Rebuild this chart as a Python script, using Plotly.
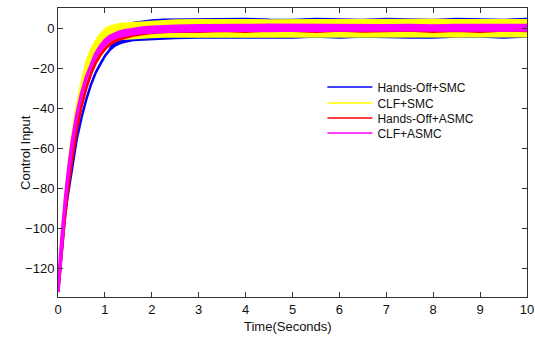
import plotly.graph_objects as go

# time samples (seconds)
T = [0, 0.05, 0.1, 0.15, 0.2, 0.25, 0.3, 0.4, 0.5, 0.6, 0.7, 0.8, 0.9, 1.0,
     1.1, 1.2, 1.3, 1.4, 1.6, 1.8, 2.0, 2.25, 2.5, 3.0, 3.5, 4.0, 4.5, 5.0,
     5.5, 6.0, 6.5, 7.0, 7.5, 8.0, 8.5, 9.0, 9.5, 10.0]

# upper / lower envelopes of each (chattering) control signal
hos_hi = [-132, -118, -105, -94, -85, -77, -70, -55.5, -45, -36, -28.5, -22.5, -18, -14,
          -11, -6, -2, 0.5, 2.5, 3.3, 3.8, 4.1, 4.2, 4.1, 4.5, 4.5, 4.1, 4.0,
          4.5, 4.1, 4.0, 4.5, 4.1, 4.0, 4.5, 4.1, 4.0, 4.5]
hos_lo = [-132, -118, -105, -94, -85, -77, -70, -55.5, -45, -36, -28.5, -22.5, -18, -14,
          -11, -9, -7.8, -7, -6, -5.6, -5.4, -5.2, -5.0, -4.7, -4.7, -4.6, -4.7, -4.7,
          -4.3, -4.7, -4.2, -4.3, -4.7, -4.7, -4.3, -4.2, -4.7, -4.3]

clfs_hi = [-132, -112, -97, -84, -72, -62, -53, -38.5, -27, -17, -11, -6.5, -3, -0.5,
           0.8, 1.5, 2.0, 2.3, 2.6, 3.0, 3.3, 3.7, 3.9, 4.0, 4.1, 4.0, 3.9, 4.1,
           4.0, 4.0, 4.1, 3.9, 4.0, 4.1, 4.0, 3.9, 4.1, 4.0]
clfs_lo = [-132, -115, -100, -87, -75.5, -66, -57.5, -43.5, -33, -25, -19, -14.5, -10.5, -7.5,
           -6.5, -6, -5.6, -5.3, -5.0, -4.8, -4.6, -4.4, -4.3, -4.2, -4.2, -4.1, -4.2, -4.2,
           -4.3, -4.2, -4.1, -4.2, -4.2, -4.2, -4.1, -4.2, -4.2, -4.2]

hoa_hi = [-132, -118.5, -105, -93, -82.5, -73, -65, -50.5, -39, -30, -23, -17.5, -13.5, -10.5,
          -8.2, -6.7, -5.6, -4.8, -3.6, -2.8, -2.3, -1.9, -1.6, -0.6, -0.4, -0.5, -0.3, -0.4,
          -0.5, -0.3, -0.4, -0.5, -0.4, -0.3, -0.5, -0.4, -0.3, -0.4]
hoa_lo = [-132, -118.5, -105, -93, -82.5, -73, -65, -50.5, -39, -30, -23, -17.5, -13.5, -10.5,
          -8.2, -6.7, -5.6, -4.8, -3.6, -2.8, -2.3, -1.9, -1.6, -1.8, -1.2, -1.7, -1.1, -1.2,
          -1.8, -1.1, -1.6, -1.2, -1.1, -1.7, -1.2, -1.7, -1.1, -1.4]

clfa_hi = [-132, -114.9, -100, -87.1, -75.8, -66, -57.4, -43.5, -32.9, -24.9, -18.9, -13, -9.3, -6.2,
           -4.2, -3.0, -2.1, -1.5, -0.6, 0.0, 0.4, 0.7, 0.9, 1.1, 1.0, 1.2, 1.4, 1.3,
           1.1, 1.0, 1.2, 1.1, 1.3, 1.0, 1.2, 1.3, 1.4, 1.3]
clfa_lo = [-132, -114.9, -100, -87.1, -75.8, -66, -57.4, -43.5, -32.9, -24.9, -18.9, -14.3, -10.8, -8.2,
           -6.2, -5.0, -4.2, -3.6, -2.8, -2.3, -2.0, -1.7, -1.5, -1.2, -1.0, -1.1, -1.3, -1.0,
           -1.2, -0.9, -1.0, -1.1, -0.9, -1.0, -1.2, -1.0, -1.1, -1.0]

names = ["Hands-Off+SMC", "CLF+SMC", "Hands-Off+ASMC", "CLF+ASMC"]
colors = ["#0000FF", "#FFFF00", "#FF0000", "#FF00FF"]
widths = [2.5, 2, 3, 3.5]
series = [(hos_hi, hos_lo), (clfs_hi, clfs_lo), (hoa_hi, hoa_lo), (clfa_hi, clfa_lo)]

x_ticks = list(range(0, 11))
y_ticks = [-120, -100, -80, -60, -40, -20, 0]

fig = go.Figure()
for (hi, lo), c, w in zip(series, colors, widths):
    assert len(hi) == len(T) and len(lo) == len(T)
    fig.add_trace(go.Scatter(
        x=T + T[::-1], y=hi + lo[::-1], mode="lines", fill="toself",
        fillcolor=c, line=dict(color=c, width=w), showlegend=False,
        hoverinfo="skip"))

legend_ids = ["legend", "legend2", "legend3", "legend4"]
for n, c, lg in zip(names, colors, legend_ids):
    fig.add_trace(go.Scatter(x=[None], y=[None], mode="lines", name=n,
                             line=dict(color=c, width=1.5), legend=lg))

axis_common = dict(showgrid=False, zeroline=False, showline=True, linecolor="#333333",
                   linewidth=1, ticks="inside", ticklen=5, tickwidth=1, tickcolor="#333333",
                   mirror="ticks", automargin=False, ticklabeloverflow="allow",
                   tickfont=dict(family="Liberation Sans, Arial", size=13, color="#111111"))

leg_y = [0.7768, 0.7215, 0.6696, 0.6176]
leg_common = dict(x=0.5637, xanchor="left", yanchor="top", bgcolor="rgba(0,0,0,0)",
                  font=dict(size=12), itemwidth=45)

# plot area: 58..527 px horizontally, 8..297 px vertically in a 535x338 page
fig.update_layout(
    width=535, height=338, autosize=False,
    margin=dict(l=58, r=8, t=8, b=41, autoexpand=False),
    paper_bgcolor="white", plot_bgcolor="white",
    font=dict(family="Liberation Sans, Arial", size=13, color="#111111"),
    xaxis=dict(range=[0, 10], tickvals=x_ticks, **axis_common),
    yaxis=dict(range=[-134.5, 10], tickvals=y_ticks, **axis_common),
    legend=dict(y=leg_y[0], **leg_common),
    legend2=dict(y=leg_y[1], **leg_common),
    legend3=dict(y=leg_y[2], **leg_common),
    legend4=dict(y=leg_y[3], **leg_common),
    annotations=[
        dict(text="Time(Seconds)", xref="paper", yref="paper", x=0.4904, y=-0.1038,
             xanchor="center", yanchor="middle", showarrow=False, font=dict(size=13)),
        dict(text="Control Input", xref="paper", yref="paper", x=-0.0704, y=0.5017,
             xanchor="center", yanchor="middle", textangle=-90, showarrow=False,
             font=dict(size=13)),
    ],
)

fig.write_html(
    "out.html",
    config={"responsive": False, "displayModeBar": False},
    post_script="document.body.style.margin='0';document.body.style.overflow='hidden';"
                "document.documentElement.style.overflow='hidden';",
)
